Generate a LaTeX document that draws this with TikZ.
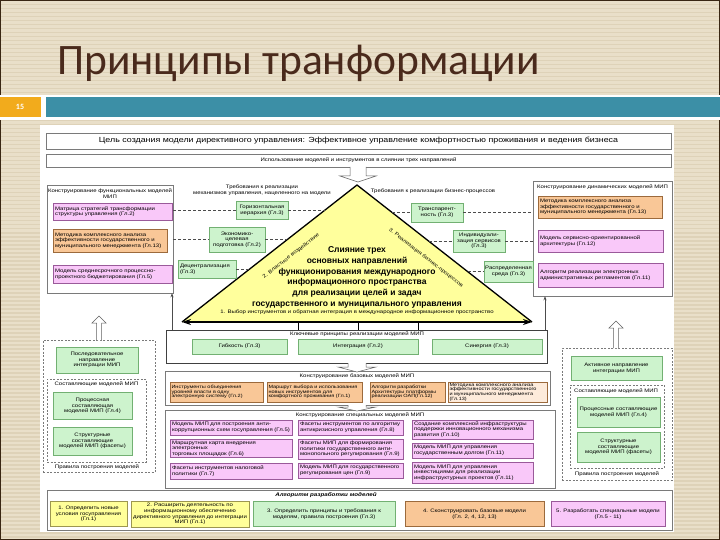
\documentclass[tikz,border=0pt]{standalone}
\usepackage{fontspec}
\setmainfont{Liberation Sans}
\newfontfamily\wf[FakeStretch=1.2]{Liberation Sans}
\newfontfamily\titlefont{Carlito}
\usetikzlibrary{arrows.meta,calc}
\definecolor{bgbeige}{HTML}{E9DFC9}
\definecolor{bgstripe}{HTML}{DED2B8}
\definecolor{titlebrown}{HTML}{4A2A1C}
\definecolor{bandteal}{HTML}{3C8FA6}
\definecolor{bandorange}{HTML}{F2AB1C}
\definecolor{pinkf}{HTML}{F9C8F9}
\definecolor{pinkd}{HTML}{9A5A9A}
\definecolor{orf}{HTML}{F9C797}
\definecolor{ord}{HTML}{9C6A3C}
\definecolor{grf}{HTML}{CDF3CD}
\definecolor{grd}{HTML}{72B072}
\definecolor{yef}{HTML}{FFFF99}
\definecolor{yed}{HTML}{9C9650}
\definecolor{trif}{HTML}{FFFF9C}
\definecolor{framec}{HTML}{7A7A7A}
\newcommand\hollowdown[6]{\draw[hollow] (#1-#4,#2) -- (#1-#4,#3-#6) -- (#1-#5,#3-#6) -- (#1,#3) -- (#1+#5,#3-#6) -- (#1+#4,#3-#6) -- (#1+#4,#2);}
\newcommand\hollowup[6]{\draw[hollow] (#1-#4,#2) -- (#1-#4,#3+#6) -- (#1-#5,#3+#6) -- (#1,#3) -- (#1+#5,#3+#6) -- (#1+#4,#3+#6) -- (#1+#4,#2);}
\begin{document}
\begin{tikzpicture}[x=1pt,y=-1pt,
 sm/.style={font=\wf\fontsize{5}{5.6}\selectfont},
 tiny/.style={font=\wf\fontsize{4.6}{4.7}\selectfont},
 bx/.style={sm, inner sep=1pt, line width=0.5pt, align=center},
 pinkb/.style={bx, draw=pinkd, fill=pinkf},
 orb/.style={bx, draw=ord, fill=orf},
 grb/.style={bx, draw=grd, fill=grf},
 yeb/.style={bx, draw=yed, fill=yef},
 frm/.style={draw=framec, line width=0.5pt, inner sep=0},
 dfrm/.style={draw=framec, line width=0.5pt, dash pattern=on 2pt off 1.5pt, inner sep=0},
 dline/.style={draw=gray!60!black, line width=0.4pt, dash pattern=on 3pt off 2pt},
 lab/.style={sm, inner sep=0},
 hollow/.style={draw=gray!75!black, fill=white, line width=0.5pt},
 conn/.style={draw=black, line width=0.6pt},
]
\useasboundingbox (0,0) rectangle (720,540);
% background
\fill[bgbeige] (0,0) rectangle (720,540);
\foreach \i in {0,...,134} \fill[bgstripe] (0,\i*4) rectangle (720,\i*4+1.5);
\draw[line width=2.5pt, draw=black!70!brown] (0,0) rectangle (720,540);
% title
\node[anchor=base west, inner sep=0, text=titlebrown, font=\titlefont\fontsize{43.5}{44}\selectfont] (title) at (57,75) {Принципы транформации};
% band
\fill[white] (0,95) rectangle (720,120);
\fill[bandorange] (0,97.5) rectangle (41,117);
\fill[bandteal] (46,97.5) rectangle (720,117);
\node[text=white, font=\titlefont\bfseries\fontsize{8}{8}\selectfont] (num) at (20,107) {15};
% white panel
\fill[white] (40,125) rectangle (674,532);

% top boxes
\node[frm, minimum width=625, minimum height=16, font=\wf\fontsize{7.4}{8}\selectfont] (goal) at (358.5,141) {Цель создания модели директивного управления: Эффективное управление комфортностью проживания и ведения бизнеса};
\node[frm, minimum width=625, minimum height=13, sm] (use) at (358.5,160.5) {Использование моделей и инструментов в слиянии трех направлений};
\hollowdown{358}{167}{182}{8}{18}{6}

% left box
\node[frm, minimum width=126, minimum height=108] (lb) at (110,239) {};
\node[lab, align=center] (lbh) at (110,193.5) {Конструирование функциональных моделей\\МИП};
\node[pinkb, minimum width=119, minimum height=17, text width=115, align=left] (lb1) at (112.5,211.5) {Матрица стратегий трансформации\\структуры управления (Гл.2)};
\node[orb, minimum width=114, minimum height=23, text width=110, align=left] (lb2) at (110,240.5) {Методика комплексного анализа\\эффективности государственного и\\муниципального менеджмента (Гл.13)};
\node[pinkb, minimum width=119, minimum height=18, text width=115, align=left] (lb3) at (112.5,274) {Модель среднесрочного процессно-\\проектного бюджетирования (Гл.5)};

% right box
\node[frm, minimum width=139, minimum height=115] (rb) at (602.5,238.5) {};
\node[lab, anchor=west] (rbh) at (537,187) {Конструирование динамических моделей МИП};
\node[orb, minimum width=124, minimum height=22, text width=120, align=left] (rb1) at (600,207) {Методика комплексного анализа\\эффективности государственного и\\муниципального менеджмента (Гл.13)};
\node[pinkb, minimum width=125, minimum height=22, text width=121, align=left] (rb2) at (600.5,241) {Модель сервисно-ориентированной\\архитектуры (Гл.12)};
\node[pinkb, minimum width=125, minimum height=24, text width=121, align=left] (rb3) at (600.5,275) {Алгоритм реализации электронных\\административных регламентов (Гл.11)};

% triangle
\coordinate (T) at (357,185);
\coordinate (L) at (182,322);
\coordinate (R) at (532,322);
\fill[trif] (T) -- (L) -- (R) -- cycle;
\draw[line width=1.3pt, line join=miter] (L) -- (T) -- (R);
\draw[line width=1.3pt, {Stealth[length=9pt,width=6pt]}-{Stealth[length=9pt,width=6pt]}] (L) -- (R);
\node[align=center, inner sep=0, font=\bfseries\fontsize{8.5}{10.8}\selectfont] (tri) at (357,277.5) {Слияние трех\\основных направлений\\функционирования международного\\информационного пространства\\для реализации целей и задач\\государственного и муниципального управления};
\node[lab] (tri1) at (357,312.5) {1. Выбор инструментов и обратная интеграция в международное информационное пространство};
\node[lab, rotate=38] (tri2) at (291,256) {2. Властное воздействие};
\node[lab, rotate=-38] (tri3) at (426,258) {3. Реализация бизнес-процессов};

% left requirements
\node[lab, align=center] (lhd) at (262,190) {Требования к реализации\\механизмов управления, нацеленного на модели};
\node[grb, minimum width=52, minimum height=18] (gl1) at (262,210) {Горизонтальная\\иерархия (Гл.3)};
\node[grb, minimum width=56, minimum height=25] (gl2) at (237,239.5) {Экономико-\\целевая\\подготовка (Гл.2)};
\node[grb, minimum width=58, minimum height=18, text width=54, align=left] (gl3) at (207,269) {Децентрализация\\(Гл.3)};
\coordinate (el1) at (325,210);
\coordinate (el2) at (287.4,239.5);
\coordinate (el3) at (249.7,269);
\draw[dline] (lb.east |- gl1.west) -- (gl1.west);
\draw[dline] (gl1.east) -- (el1);
\draw[dline] (lb.east |- gl2.west) -- (gl2.west);
\draw[dline] (gl2.east) -- (el2);
\draw[dline] (gl3.east) -- (el3);

% right requirements
\node[lab, align=center] (rhd) at (433,191) {Требования к реализации бизнес-процессов};
\node[grb, minimum width=52, minimum height=19] (gr1) at (437,212.5) {Транспарент-\\ность (Гл.3)};
\node[grb, minimum width=52, minimum height=22] (gr2) at (479,241) {Индивидуали-\\зация сервисов\\(Гл.3)};
\node[grb, minimum width=45, minimum height=21] (gr3) at (508.5,271.5) {Распределенная\\среда (Гл.3)};
\coordinate (er1) at (392.1,212.5);
\coordinate (er2) at (428.5,241);
\coordinate (er3) at (467.5,271.5);
\draw[dline] (er1) -- (gr1.west);
\draw[dline] (gr1.east) -- (gr1.east -| rb.west);
\draw[dline] (er2) -- (gr2.west);
\draw[dline] (gr2.east) -- (gr2.east -| rb.west);
\draw[dline] (er3) -- (gr3.west);

% key principles
\node[draw=black!75, line width=0.6pt, inner sep=0, minimum width=381, minimum height=33] (kp) at (356.5,346.5) {};
\node[lab] (kph) at (357,334.5) {Ключевые принципы реализации моделей МИП};
\node[grb, minimum width=95, minimum height=15] (kp1) at (239.5,346.5) {Гибкость (Гл.3)};
\node[grb, minimum width=120, minimum height=15] (kp2) at (358,346.5) {Интеграция (Гл.2)};
\node[grb, minimum width=110, minimum height=15] (kp3) at (487,346.5) {Синергия (Гл.3)};
\coordinate (b1) at (298,322);
\coordinate (b2) at (358,322);
\coordinate (b3) at (418,322);
\draw[conn] (b1) -- (b1 |- kp.north);
\draw[conn] (b2) -- (b2 |- kp.north);
\draw[conn] (b3) -- (b3 |- kp.north);
\coordinate (ar1) at (545,330);
\coordinate (al1) at (172,330);
\draw[draw=black!70, line width=0.5pt, -{Stealth[length=4pt,width=3pt]}] (ar1) -- (ar1 |- rb.south);
\draw[draw=black!70, line width=0.5pt, -{Stealth[length=4pt,width=3pt]}] (al1) -- (al1 |- lb.south);

% base models
\node[frm, minimum width=385, minimum height=34] (bf) at (357.5,388) {};
\node[lab] (bfh) at (357,376) {Конструирование базовых моделей МИП};
\node[orb, tiny, minimum width=93, minimum height=20, text width=90, align=left, inner sep=0.5pt] (bm1) at (216.5,392) {Инструменты объединения\\уровней власти в одну\\электронную систему (Гл.2)};
\node[orb, tiny, minimum width=95, minimum height=20, text width=92, align=left, inner sep=0.5pt] (bm2) at (314.5,392) {Маршрут выбора и использования\\новых инструментов для\\комфортного проживания (Гл.1)};
\node[orb, tiny, minimum width=75, minimum height=20, text width=72, align=left, inner sep=0.5pt] (bm3) at (407.5,392) {Алгоритм разработки\\Архитектуры платформы\\реализации ОАП(Гл.12)};
\node[orb, tiny, fill=orf!35, minimum width=99, minimum height=20, text width=96, align=left, inner sep=0.5pt] (bm4) at (497.5,392) {Методика комплексного анализа\\эффективности государственного\\и муниципального менеджмента\\(Гл.13)};

% special models
\node[frm, minimum width=390, minimum height=78] (sf) at (360,449) {};
\node[lab] (sfh) at (360,415) {Конструирование специальных моделей МИП};
\node[pinkb, minimum width=122, minimum height=15, text width=118, align=left] (s11) at (231,427.5) {Модель МИП для построения анти-\\коррупционных схем госуправления (Гл.5)};
\node[pinkb, minimum width=122, minimum height=15, text width=118, align=left] (s12) at (231,448.5) {Маршрутная карта внедрения электронных\\торговых площадок (Гл.6)};
\node[pinkb, minimum width=122, minimum height=16, text width=118, align=left] (s13) at (231,471) {Фасеты инструментов налоговой\\политики (Гл.7)};
\node[pinkb, minimum width=105, minimum height=15, text width=101, align=left] (s21) at (350.5,427.5) {Фасеты инструментов по алгоритму\\антикризисного управления (Гл.8)};
\node[pinkb, minimum width=105, minimum height=20, text width=101, align=left] (s22) at (350.5,449) {Фасеты МИП для формирования\\политики государственного анти-\\монопольного регулирования (Гл.9)};
\node[pinkb, minimum width=105, minimum height=15, text width=101, align=left] (s23) at (350.5,470.5) {Модель МИП для государственного\\регулирования цен (Гл.9)};
\node[pinkb, minimum width=121, minimum height=19, text width=117, align=left] (s31) at (472.5,429.5) {Создание комплексной инфраструктуры\\поддержки инновационного механизма\\развития (Гл.10)};
\node[pinkb, minimum width=121, minimum height=15, text width=117, align=left] (s32) at (472.5,450.5) {Модель МИП для управления\\государственным долгом (Гл.11)};
\node[pinkb, minimum width=121, minimum height=21, text width=117, align=left] (s33) at (472.5,472.5) {Модель МИП для управления\\инвестициями для реализации\\инфраструктурных проектов (Гл.11)};

\hollowdown{357}{363}{372}{9}{19}{5}
\hollowdown{357}{405}{411}{9}{19}{4}

% left lower
\node[dfrm, minimum width=112, minimum height=132] (ll) at (99,406) {};
\node[grb, minimum width=82, minimum height=26] (ll1) at (97,360) {Последовательное\\направление\\интеграции МИП};
\node[dfrm, minimum width=99, minimum height=83] (lli) at (96.5,420.5) {};
\node[lab] (llh) at (96.5,384.5) {Составляющие моделей МИП};
\node[grb, minimum width=79, minimum height=27] (ll2) at (92.5,406) {Процессная\\составляющая\\моделей МИП (Гл.4)};
\node[grb, minimum width=79, minimum height=28] (ll3) at (92.5,441) {Структурные\\составляющие\\моделей МИП (фасеты)};
\node[lab] (llr) at (97,467) {Правила построения моделей};
\hollowup{99}{340}{316}{2.5}{7}{7}

% right lower
\node[dfrm, minimum width=110, minimum height=132] (rl) at (617,414) {};
\node[grb, minimum width=91, minimum height=24] (rl1) at (616.5,368) {Активное направление\\интеграции МИП};
\node[dfrm, minimum width=94, minimum height=83] (rli) at (617,426.5) {};
\node[lab, anchor=west] (rlh) at (574,391) {Составляющие моделей МИП};
\node[grb, minimum width=83, minimum height=30] (rl2) at (618.5,412) {Процессные составляющие\\моделей МИП (Гл.4)};
\node[grb, minimum width=83, minimum height=30] (rl3) at (618.5,447) {Структурные\\составляющие\\моделей МИП (фасеты)};
\node[lab] (rlr) at (617,474) {Правила построения моделей};
\hollowup{616}{348}{321}{2.5}{7}{7}

% algorithm
\node[frm, minimum width=625, minimum height=40] (af) at (359.5,510) {};
\node[inner sep=0, font=\wf\bfseries\itshape\fontsize{5.2}{6}\selectfont] (afh) at (326,495.5) {Алгоритм разработки моделей};
\node[yeb, minimum width=77, minimum height=25] (a1) at (88.5,514) {1. Определить новые\\условия госуправления\\(Гл.1)};
\node[yeb, minimum width=118, minimum height=26] (a2) at (190,514) {2. Расширить деятельность по\\информационному обеспечению\\директивного управления до интеграции\\МИП (Гл.1)};
\node[grb, minimum width=142, minimum height=25] (a3) at (324,514) {3. Определить принципы и требования к\\моделям, правила построения (Гл.3)};
\node[orb, minimum width=139, minimum height=25] (a4) at (474.5,514) {4. Сконструировать базовые модели\\(Гл. 2, 4, 12, 13)};
\node[pinkb, minimum width=114, minimum height=25] (a5) at (608,514) {5. Разработать специальные модели\\(Гл.5 - 11)};
\end{tikzpicture}
\end{document}
